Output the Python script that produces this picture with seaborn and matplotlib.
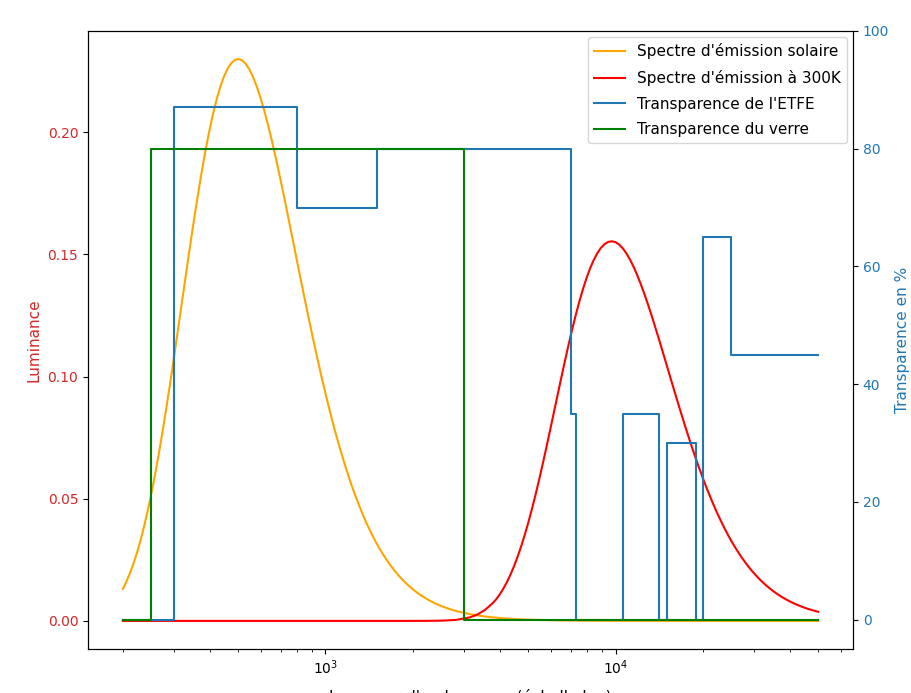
import matplotlib
matplotlib.use("Agg")
import matplotlib.pyplot as plt
import seaborn as sns
import pandas as pd

# Spectre solaire : longueurs d'onde (nm) et luminance
lambda_solaire = [200.0, 205.4, 211.3, 217.5, 223.9, 230.4, 237.1, 244.1, 251.2, 258.5,
                  266.1, 273.8, 281.8, 290.1, 298.5, 307.3, 316.2, 325.5, 335.0, 344.7,
                  354.8, 365.2, 375.8, 386.8, 398.1, 409.7, 421.7, 434.0, 446.7, 459.7,
                  473.2, 487.0, 501.2, 515.8, 530.9, 546.4, 562.3, 578.8, 595.7, 613.1,
                  631.0, 649.4, 668.3, 687.9, 707.9, 728.6, 749.9, 771.8, 794.3, 817.5,
                  841.4, 866.0, 891.3, 917.3, 944.1, 971.6, 1000, 1029, 1059, 1090,
                  1122, 1155, 1189, 1223, 1259, 1296, 1334, 1372, 1413, 1454,
                  1496, 1540, 1585, 1631, 1679, 1728, 1778, 1830, 1884, 1939,
                  1995, 2054, 2113, 2175, 2239, 2304, 2371, 2441, 2512,
                  2661, 2818, 3162, 3548, 3981, 4467, 5012, 6310, 7943, 10000,
                  15849, 25119, 50000]
lum_solaire = [0.01308, 0.01583, 0.01931, 0.02333, 0.02792, 0.03311, 0.03892, 0.04534, 0.05240, 0.06004,
               0.06827, 0.07702, 0.08625, 0.09588, 0.10583, 0.11602, 0.12634, 0.13670, 0.14696, 0.15704,
               0.16683, 0.17621, 0.18507, 0.19332, 0.20088, 0.20766, 0.21364, 0.21872, 0.22287, 0.22608,
               0.22833, 0.22966, 0.23000, 0.22947, 0.22804, 0.22575, 0.22269, 0.21892, 0.21448, 0.20945,
               0.20388, 0.19786, 0.19144, 0.18469, 0.17770, 0.17053, 0.16321, 0.15583, 0.14842, 0.14104,
               0.13372, 0.12652, 0.11944, 0.11254, 0.10584, 0.09934, 0.09308, 0.08706, 0.08129, 0.07579,
               0.07055, 0.06557, 0.06085, 0.05640, 0.05220, 0.04825, 0.04455, 0.04108, 0.03783, 0.03481,
               0.03199, 0.02937, 0.02693, 0.02468, 0.02259, 0.02067, 0.01888, 0.01724, 0.01573, 0.01434,
               0.01306, 0.01189, 0.01082, 0.00983, 0.00894, 0.00811, 0.00736, 0.00667, 0.00605,
               0.00497, 0.00406, 0.00271, 0.00179, 0.00118, 0.00077, 0.00050, 0.00021, 0.00009, 0.00004,
               0.00001, 0.0, 0.0]

# Emission a 300K
lambda_300k = [200, 1995, 2239, 2512, 2818, 3162, 3350, 3548, 3758,
               3868, 3981, 4097, 4217, 4340, 4467, 4597, 4732, 4870, 5012,
               5158, 5309, 5464, 5623, 5788, 5957, 6131, 6310, 6494, 6683,
               6879, 7079, 7286, 7499, 7718, 7943, 8175, 8414, 8660, 8913,
               9173, 9441, 9716, 10000, 10292, 10593, 10902, 11220, 11548, 11885,
               12232, 12589, 12957, 13335, 13724, 14125, 14538, 14962, 15399, 15849,
               16312, 16788, 17278, 17783, 18302, 18836, 19386, 19953, 20535, 21135,
               21752, 22387, 23041, 23714, 24406, 25119, 25852, 26607, 27384, 28184,
               29007, 29854, 30726, 31623, 32546, 33497, 34475, 35481, 36517, 37584,
               38681, 39811, 40973, 42170, 43401, 44668, 45973, 47315, 48697, 50000]
lum_300k = [0.0, 0.0, 0.00002, 0.0001, 0.0004, 0.0015, 0.0027, 0.0045, 0.0071,
            0.00868, 0.01069, 0.01305, 0.01576, 0.01887, 0.02237, 0.02630, 0.03063, 0.03540, 0.04057,
            0.04613, 0.05204, 0.05827, 0.06478, 0.07151, 0.07839, 0.08536, 0.09236, 0.09929, 0.10611,
            0.11272, 0.11905, 0.12504, 0.13062, 0.13573, 0.14031, 0.14435, 0.14778, 0.15058, 0.15275,
            0.15427, 0.15517, 0.15540, 0.15504, 0.15408, 0.15253, 0.15046, 0.14791, 0.14492, 0.14151,
            0.13775, 0.13368, 0.12935, 0.12479, 0.12006, 0.11522, 0.11027, 0.10529, 0.10028, 0.09529,
            0.09035, 0.08548, 0.08070, 0.07604, 0.07151, 0.06712, 0.06289, 0.05882, 0.05493, 0.05121,
            0.04767, 0.04430, 0.04112, 0.03811, 0.03527, 0.03260, 0.03010, 0.02775, 0.02556, 0.02352,
            0.02161, 0.01984, 0.01820, 0.01668, 0.01527, 0.01396, 0.01276, 0.01165, 0.01063, 0.00969,
            0.00883, 0.00803, 0.00731, 0.00664, 0.00604, 0.00548, 0.00497, 0.00451, 0.00409, 0.00373]

# transparences (%) par paliers
etfe_x = [200, 300, 800, 1500, 7000, 7300, 10650, 14150, 15000, 19000, 20000, 25000, 50000]
etfe_y = [0, 87, 70, 80, 35, 0, 35, 0, 30, 0, 65, 45, 45]
verre_x = [200, 250, 3000, 50000]
verre_y = [0, 80, 0, 0]

sol = pd.DataFrame({"lambda": lambda_solaire, "lum": lum_solaire})
terre = pd.DataFrame({"lambda": lambda_300k, "lum": lum_300k})

fig = plt.figure(figsize=(9.12, 6.93), dpi=100)
ax = fig.add_axes([0.0965, 0.0635, 0.8388, 0.8918])

sns.lineplot(data=sol, x="lambda", y="lum", color="orange", ax=ax,
             label="Spectre d'émission solaire", legend=False)
sns.lineplot(data=terre, x="lambda", y="lum", color="red", ax=ax,
             label="Spectre d'émission à 300K", legend=False)
ax.set_xscale("log")
ax.set_xlabel("Longueur d'onde en nm (échelle log)", fontsize=11, labelpad=8.5)
ax.set_ylabel("Luminance", color="tab:red", fontsize=11)
ax.tick_params(axis="y", labelcolor="tab:red")

ax2 = ax.twinx()
sns.lineplot(x=etfe_x, y=etfe_y, color="tab:blue", drawstyle="steps-post", ax=ax2,
             label="Transparence de l'ETFE", legend=False)
sns.lineplot(x=verre_x, y=verre_y, color="green", drawstyle="steps-post", ax=ax2,
             label="Transparence du verre", legend=False)
ax2.set_ylim(-5, 100)
ax2.set_ylabel("Transparence en %", color="tab:blue", fontsize=11)
ax2.tick_params(axis="y", labelcolor="tab:blue")

h1, l1 = ax.get_legend_handles_labels()
h2, l2 = ax2.get_legend_handles_labels()
ax2.legend(h1 + h2, l1 + l2, loc="upper right", fontsize=11, labelspacing=0.7,
           borderaxespad=0.4)

fig.savefig("out.png", dpi=100)
